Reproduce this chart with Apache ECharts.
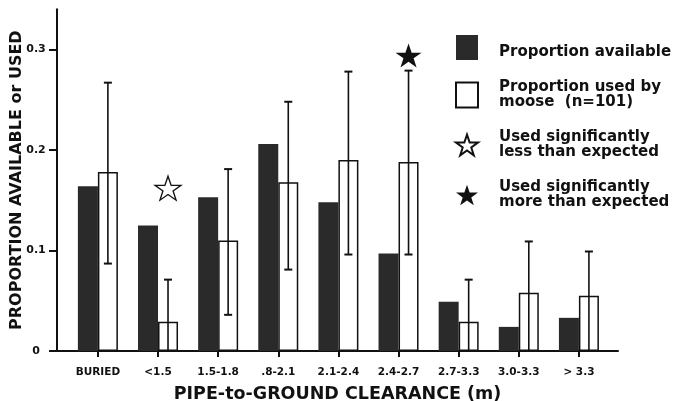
<!DOCTYPE html>
<html>
<head>
<meta charset="utf-8">
<script src="https://cdn.jsdelivr.net/npm/echarts@6/dist/echarts.min.js"></script>
<style>html,body{margin:0;padding:0;background:#fff}#c{width:675px;height:401px}</style>
</head>
<body>
<div id="c"></div>
<script>
// ---- data ----
const categories = ['BURIED', '<1.5', '1.5-1.8', '.8-2.1', '2.1-2.4', '2.4-2.7', '2.7-3.3', '3.0-3.3', '> 3.3'];
const available = [0.164, 0.125, 0.153, 0.206, 0.148, 0.097, 0.049, 0.024, 0.033];
const used = [0.178, 0.029, 0.110, 0.168, 0.190, 0.188, 0.029, 0.058, 0.055];
const errLow = [0.087, 0, 0.036, 0.081, 0.096, 0.096, 0, 0, 0];
const errHigh = [0.267, 0.071, 0.181, 0.248, 0.278, 0.279, 0.071, 0.109, 0.099];
const lessIdx = [1];
const lessY = [0.162];
const moreIdx = [5];
const moreY = [0.294];
const yTicks = [0, 0.1, 0.2, 0.3];

const nameAvail = 'Proportion available';
const nameUsed = 'Proportion used by\nmoose  (n=101)';
const nameLess = 'Used significantly\nless than expected';
const nameMore = 'Used significantly\nmore than expected';

const STAR = 'path://M50,0 L61.8,35.1 L98.9,35.1 L69.1,56.8 L80.3,91.9 L50,70.2 L19.7,91.9 L30.9,56.8 L1.1,35.1 L38.2,35.1 Z';
const idx = categories.map((_, i) => i);

const chart = echarts.init(document.getElementById('c'), null, {renderer: 'canvas'});
const BOLD = {fontFamily: 'DejaVu Sans', fontWeight: 'bold', color: '#111'};

chart.setOption({
  animation: false,
  backgroundColor: '#fff',
  grid: {left: 57, right: 57, top: 9.3, bottom: 50, containLabel: false, outerBoundsMode: 'none'},
  xAxis: {
    type: 'value', min: -0.68, max: 8.65,
    name: 'PIPE-to-GROUND CLEARANCE (m)', nameLocation: 'middle', nameGap: 34, nameMoveOverlap: false,
    nameTextStyle: Object.assign({}, BOLD, {fontSize: 17.5}),
    axisLine: {show: true, onZero: false, lineStyle: {color: '#111', width: 2}},
    axisTick: {show: true, inside: false, customValues: idx, length: 6, lineStyle: {color: '#111', width: 2}},
    axisLabel: {customValues: idx, formatter: v => categories[Math.round(v)], margin: 16,
      fontFamily: 'DejaVu Sans', fontWeight: 'bold', fontSize: 10.5, color: '#111'},
    splitLine: {show: false}
  },
  yAxis: {
    type: 'value', min: 0, max: 0.34,
    name: 'PROPORTION AVAILABLE or USED', nameLocation: 'middle', nameGap: 32, nameMoveOverlap: false,
    nameTextStyle: Object.assign({}, BOLD, {fontSize: 16}),
    axisLine: {show: true, onZero: false, lineStyle: {color: '#111', width: 2}},
    axisTick: {show: true, inside: false, customValues: yTicks, length: 8, lineStyle: {color: '#111', width: 2}},
    axisLabel: {customValues: yTicks, formatter: v => (v === 0 ? '0' : v.toFixed(1)), margin: 21, align: 'center',
      fontFamily: 'DejaVu Sans', fontWeight: 'bold', fontSize: 11, color: '#111'},
    splitLine: {show: false}
  },
  legend: {
    orient: 'vertical', left: 455, top: 35, padding: 0, itemWidth: 22, itemHeight: 25, itemGap: 20,
    selectedMode: false,
    formatter: n => (n === nameAvail ? '{a|' + n + '}' : n),
    textStyle: Object.assign({}, BOLD, {fontSize: 15, lineHeight: 15, padding: [0, 0, 0, 16],
      rich: {a: Object.assign({}, BOLD, {fontSize: 15, lineHeight: 15, padding: [9, 0, 0, 0]})}}),
    data: [
      {name: nameAvail, icon: 'rect'},
      {name: nameUsed, icon: 'rect'},
      {name: nameLess, icon: STAR},
      {name: nameMore, icon: STAR}
    ]
  },
  series: [
    {
      name: nameAvail, type: 'bar', barWidth: 20, barGap: '0%',
      itemStyle: {color: '#2a2a2a'},
      data: idx.map(i => [i, available[i]])
    },
    {
      name: nameUsed, type: 'bar', barWidth: 20, barGap: '0%',
      itemStyle: {color: '#fff', borderColor: '#111', borderWidth: 1.5},
      data: idx.map(i => [i, used[i]])
    },
    {
      type: 'custom', z: 5,
      renderItem: function (params, api) {
        const x = api.value(0), lo = api.value(1), hi = api.value(2);
        const pt = api.coord([x, hi]);
        const pb = api.coord([x, lo]);
        const cx = pt[0] + 10;
        const st = {stroke: '#111', lineWidth: 1.6};
        const ch = [
          {type: 'line', shape: {x1: cx, y1: pt[1], x2: cx, y2: pb[1]}, style: st},
          {type: 'line', shape: {x1: cx - 4, y1: pt[1], x2: cx + 4, y2: pt[1]}, style: {stroke: '#111', lineWidth: 2}}
        ];
        if (lo > 0) ch.push({type: 'line', shape: {x1: cx - 4, y1: pb[1], x2: cx + 4, y2: pb[1]}, style: {stroke: '#111', lineWidth: 2}});
        return {type: 'group', children: ch};
      },
      data: idx.map(i => [i, errLow[i], errHigh[i]])
    },
    {
      name: nameLess, type: 'scatter', symbol: STAR, symbolSize: [26, 24], symbolOffset: [10, 0],
      itemStyle: {color: '#fff', borderColor: '#111', borderWidth: 1.3, opacity: 1},
      data: lessIdx.map((c, k) => [c, lessY[k]])
    },
    {
      name: nameMore, type: 'scatter', symbol: STAR, symbolSize: [26, 24], symbolOffset: [10, 0],
      itemStyle: {color: '#111', opacity: 1},
      data: moreIdx.map((c, k) => [c, moreY[k]])
    }
  ]
});
</script>
</body>
</html>
